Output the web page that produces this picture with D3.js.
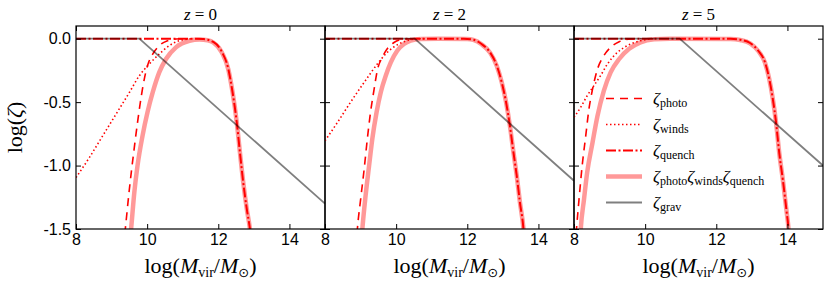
<!DOCTYPE html>
<html>
<head>
<meta charset="utf-8">
<script src="https://cdn.jsdelivr.net/npm/d3@7"></script>
<style>
  body { margin: 0; background: #fff; }
  svg { display: block; }
</style>
</head>
<body>
<div id="chart"></div>
<script>
    const width = 831, height = 286;
    const margin = {left: 76, top: 26};
    const panelW = 249, panelH = 203;

    // one entry per panel
    const redshifts = [0, 2, 5];
    const xTicks = [8, 10, 12, 14];
    const xTickLabels = ["8", "10", "12", "14"];
    const yTicks = [-1.5, -1.0, -0.5, 0.0];
    const yTickLabels = ["-1.5", "-1.0", "-0.5", "0.0"];

    // log(M_vir) , log(zeta)
    const photo = [
        [[9.33, -1.65], [9.387, -1.497], [9.5, -1.187], [9.61, -0.924], [9.73, -0.66], [9.83, -0.463], [9.92, -0.318], [10.01, -0.213], [10.16, -0.12], [10.34, -0.055], [10.58, -0.016], [10.81, -0.003], [11.1, 0]],
        [[8.87, -1.65], [8.91, -1.5], [9.0, -1.27], [9.1, -1.03], [9.19, -0.79], [9.28, -0.58], [9.38, -0.4], [9.47, -0.25], [9.61, -0.147], [9.75, -0.08], [9.94, -0.03], [10.22, -0.003], [10.5, 0]],
        [[8.03, -1.65], [8.07, -1.5], [8.14, -1.27], [8.23, -1.0], [8.33, -0.766], [8.42, -0.555], [8.52, -0.4], [8.66, -0.24], [8.84, -0.134], [9.03, -0.068], [9.27, -0.024], [9.59, -0.003], [9.9, 0]]
    ];
    const winds = [
        [[8, -1.095], [8.375, -0.937], [8.75, -0.766], [9.125, -0.595], [9.5, -0.424], [9.78, -0.292], [10.06, -0.2], [10.34, -0.121], [10.62, -0.055], [10.9, -0.016], [11.28, 0]],
        [[8, -0.805], [8.35, -0.66], [8.72, -0.5], [9.1, -0.345], [9.47, -0.2], [9.75, -0.108], [9.99, -0.055], [10.22, -0.024], [10.5, -0.003], [10.8, 0]],
        [[8, -0.62], [8.19, -0.54], [8.37, -0.45], [8.56, -0.37], [8.75, -0.29], [8.94, -0.2], [9.22, -0.108], [9.5, -0.055], [9.87, -0.016], [10.25, 0]]
    ];
    const quench = [
        [[8, 0], [11.3, 0], [11.58, -0.003], [11.86, -0.026], [12.1, -0.104], [12.28, -0.236], [12.4, -0.42], [12.52, -0.66], [12.61, -0.9], [12.7, -1.13], [12.8, -1.34], [12.89, -1.5], [12.95, -1.65]],
        [[8, 0], [11.9, 0], [12.17, -0.008], [12.4, -0.042], [12.64, -0.108], [12.83, -0.213], [12.97, -0.345], [13.09, -0.5], [13.2, -0.69], [13.3, -0.9], [13.39, -1.08], [13.48, -1.29], [13.58, -1.5], [13.62, -1.65]],
        [[8, 0], [12.4, 0], [12.67, -0.008], [12.95, -0.034], [13.18, -0.095], [13.37, -0.187], [13.49, -0.318], [13.59, -0.476], [13.68, -0.66], [13.77, -0.9], [13.87, -1.11], [13.98, -1.37], [14.03, -1.5], [14.06, -1.65]]
    ];
    const product = [
        [[9.5, -1.65], [9.55, -1.497], [9.64, -1.21], [9.73, -1.0], [9.87, -0.766], [10.01, -0.58], [10.16, -0.42], [10.34, -0.266], [10.53, -0.16], [10.81, -0.068], [11.19, -0.016], [11.47, -0.006], [11.7, -0.012], [11.86, -0.03], [12.1, -0.108], [12.28, -0.24], [12.4, -0.42], [12.52, -0.66], [12.61, -0.9], [12.7, -1.13], [12.8, -1.34], [12.89, -1.5], [12.95, -1.65]],
        [[9.01, -1.65], [9.05, -1.5], [9.14, -1.24], [9.24, -1.0], [9.33, -0.79], [9.45, -0.58], [9.57, -0.42], [9.71, -0.29], [9.85, -0.187], [10.03, -0.095], [10.22, -0.042], [10.41, -0.016], [10.69, -0.003], [11.2, 0], [12.0, -0.003], [12.17, -0.01], [12.4, -0.044], [12.64, -0.11], [12.83, -0.215], [12.97, -0.345], [13.09, -0.5], [13.2, -0.69], [13.3, -0.9], [13.39, -1.08], [13.48, -1.29], [13.58, -1.5], [13.62, -1.65]],
        [[8.16, -1.65], [8.19, -1.5], [8.28, -1.27], [8.37, -1.055], [8.52, -0.82], [8.66, -0.61], [8.84, -0.41], [9.03, -0.266], [9.27, -0.16], [9.55, -0.08], [9.87, -0.029], [10.25, -0.005], [10.7, 0], [12.4, -0.002], [12.67, -0.01], [12.95, -0.036], [13.18, -0.097], [13.37, -0.19], [13.49, -0.32], [13.59, -0.476], [13.68, -0.66], [13.77, -0.9], [13.87, -1.11], [13.98, -1.37], [14.03, -1.5], [14.06, -1.65]]
    ];
    const grav = [
        [[8, 0], [9.78, 0], [15, -1.3]],
        [[8, 0], [10.52, 0], [15, -1.12]],
        [[8, 0], [10.97, 0], [15, -1.0]]
    ];

    // style for each curve, drawn in this order
    const series = [
        {key: "photo", data: photo, sub: ["photo"], color: "#ff0000", width: 1.6, dash: "8,6", curve: d3.curveMonotoneX},
        {key: "winds", data: winds, sub: ["winds"], color: "#ff0000", width: 1.6, dash: "1.5,2.5", curve: d3.curveMonotoneX},
        {key: "quench", data: quench, sub: ["quench"], color: "#ff0000", width: 2, dash: "10,2.5,2,2.5", curve: d3.curveMonotoneX},
        {key: "product", data: product, sub: ["photo", "winds", "quench"], color: "rgba(255,0,0,0.4)", width: 4.5, dash: null, curve: d3.curveMonotoneX},
        {key: "grav", data: grav, sub: ["grav"], color: "rgba(0,0,0,0.5)", width: 1.8, dash: null, curve: d3.curveLinear}
    ];

    const svg = d3.select("#chart").append("svg")
        .attr("width", width)
        .attr("height", height);

    const x = d3.scaleLinear().domain([8, 15]).range([0, panelW]);
    const y = d3.scaleLinear().domain([-1.5, 0.1]).range([panelH, 0]);

    const serif = "'Liberation Serif', 'DejaVu Serif', serif";
    const sans = "'Liberation Sans', Arial, sans-serif";

    redshifts.forEach((z, i) => {
        const g = svg.append("g")
            .attr("transform", `translate(${margin.left + i * panelW}, ${margin.top})`);

        g.append("clipPath").attr("id", `clip${i}`)
            .append("rect").attr("width", panelW).attr("height", panelH);

        const plot = g.append("g").attr("clip-path", `url(#clip${i})`);

        series.forEach(s => {
            const line = d3.line()
                .curve(s.curve)
                .x(d => x(d[0]))
                .y(d => y(d[1]));
            plot.append("path")
                .attr("d", line(s.data[i]))
                .attr("fill", "none")
                .attr("stroke", s.color)
                .attr("stroke-width", s.width)
                .attr("stroke-dasharray", s.dash);
        });

        // inward ticks on all four sides
        const bottom = g.append("g").attr("transform", `translate(0, ${panelH})`)
            .call(d3.axisBottom(x).tickValues(xTicks).tickSizeInner(-5).tickSizeOuter(0).tickPadding(5)
                .tickFormat((d, k) => xTickLabels[k]));
        const top = g.append("g")
            .call(d3.axisTop(x).tickValues(xTicks).tickSizeInner(-5).tickSizeOuter(0).tickFormat(""));
        const left = g.append("g")
            .call(d3.axisLeft(y).tickValues(yTicks).tickSizeInner(-5).tickSizeOuter(0).tickPadding(5)
                .tickFormat((d, k) => yTickLabels[k]));
        const right = g.append("g").attr("transform", `translate(${panelW}, 0)`)
            .call(d3.axisRight(y).tickValues(yTicks).tickSizeInner(-5).tickSizeOuter(0).tickFormat(""));

        [bottom, top, left, right].forEach(a => {
            a.select(".domain").remove();
            a.selectAll("line").attr("stroke", "#000").attr("stroke-width", 1);
            a.selectAll("text").attr("font-family", sans).attr("font-size", 16).attr("fill", "#000");
        });
        // no labels on inner panels' y axis, and drop empty text nodes
        if (i > 0) left.selectAll("text").remove();
        top.selectAll("text").remove();
        right.selectAll("text").remove();

        g.append("rect")
            .attr("width", panelW).attr("height", panelH)
            .attr("fill", "none").attr("stroke", "#000").attr("stroke-width", 1.2);

        // panel title
        const title = g.append("text")
            .attr("x", panelW / 2).attr("y", -6)
            .attr("text-anchor", "middle")
            .attr("font-family", serif).attr("font-size", 17);
        title.append("tspan").attr("font-style", "italic").text("z");
        title.append("tspan").text(` = ${z}`);

        // x label
        const xl = g.append("text")
            .attr("x", panelW / 2).attr("y", panelH + 44)
            .attr("text-anchor", "middle")
            .attr("font-family", serif).attr("font-size", 22);
        xl.append("tspan").text("log(");
        xl.append("tspan").attr("font-style", "italic").text("M");
        xl.append("tspan").attr("font-size", 14).attr("dy", 4).text("vir");
        xl.append("tspan").attr("dy", -4).text("/");
        xl.append("tspan").attr("font-style", "italic").text("M");
        xl.append("tspan").attr("font-size", 13).attr("dy", 4).attr("font-family", "'DejaVu Sans'").text("\u2299");
        xl.append("tspan").attr("dy", -4).text(")");
    });

    // y label
    const yl = svg.append("text")
        .attr("transform", `translate(22, ${margin.top + panelH / 2}) rotate(-90)`)
        .attr("text-anchor", "middle")
        .attr("font-family", serif).attr("font-size", 22);
    yl.append("tspan").text("log(");
    yl.append("tspan").attr("font-style", "italic").text("\u03b6");
    yl.append("tspan").text(")");

    // legend in the last panel
    const legend = svg.append("g")
        .attr("transform", `translate(${margin.left + 2 * panelW}, ${margin.top})`);
    const rows = legend.selectAll("g").data(series).enter().append("g")
        .attr("transform", (d, k) => `translate(0, ${72.5 + k * 26})`);
    rows.append("line")
        .attr("x1", 32).attr("x2", 68)
        .attr("stroke", d => d.color)
        .attr("stroke-width", d => d.width)
        .attr("stroke-dasharray", d => d.dash);
    const labels = rows.append("text")
        .attr("x", 79).attr("y", 5)
        .attr("font-family", serif).attr("font-size", 17);
    labels.each(function (d) {
        const t = d3.select(this);
        d.sub.forEach((s, k) => {
            t.append("tspan").attr("font-style", "italic").attr("dy", k === 0 ? 0 : -3).text("\u03b6");
            t.append("tspan").attr("font-size", 12).attr("dy", 3).text(s);
        });
    });
</script>
</body>
</html>
